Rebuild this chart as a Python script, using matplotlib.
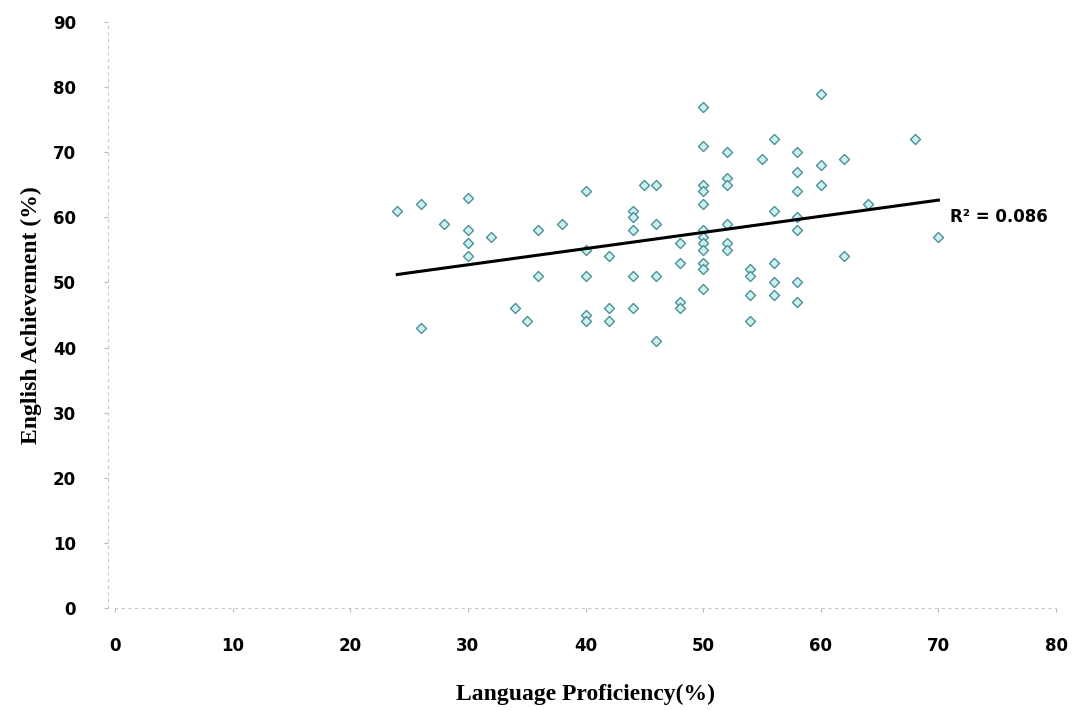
import numpy as np
import matplotlib.pyplot as plt

# language proficiency (%) and english achievement (%)
proficiency = [24, 26, 26, 28, 30, 30, 30, 30, 32, 34, 35, 36, 36, 38,
               40, 40, 40, 40, 40, 42, 42, 42, 44, 44, 44, 44, 44,
               45, 46, 46, 46, 46, 48, 48, 48, 48,
               50, 50, 50, 50, 50, 50, 50, 50, 50, 50, 50, 50,
               52, 52, 52, 52, 52, 52, 54, 54, 54, 54, 55,
               56, 56, 56, 56, 56, 58, 58, 58, 58, 58, 58, 58,
               60, 60, 60, 62, 62, 64, 68, 70]
achievement = [61, 62, 43, 59, 63, 58, 56, 54, 57, 46, 44, 58, 51, 59,
               64, 55, 51, 45, 44, 54, 46, 44, 61, 60, 58, 51, 46,
               65, 65, 59, 51, 41, 56, 53, 47, 46,
               77, 71, 65, 64, 62, 58, 57, 56, 55, 53, 52, 49,
               70, 66, 65, 59, 56, 55, 52, 51, 48, 44, 69,
               72, 61, 53, 50, 48, 70, 67, 64, 60, 58, 50, 47,
               79, 68, 65, 69, 54, 62, 72, 57]
r2_label = "R² = 0.086"

x = np.array(proficiency, dtype=float)
y = np.array(achievement, dtype=float)
slope, icpt = np.polyfit(x, y, 1)

fig = plt.figure(figsize=(10.81, 7.10), dpi=100)
ax = fig.add_axes([0.1064, 0.1437, 0.8705, 0.8254])

ax.scatter(x, y, marker="D", s=26, facecolor="#c9f1f1", edgecolor="#4f8f96",
           linewidths=1.0, zorder=2)

xs = np.array([x.min(), x.max()])
ax.plot(xs, slope * xs + icpt, color="black", lw=2.2, zorder=3)

ax.text(71, 60, r2_label, fontsize=12, fontweight="bold",
        family="DejaVu Sans", ha="left", va="center")

ax.set_xlim(0, 80)
ax.set_ylim(0, 90)
ax.set_xticks(range(0, 81, 10))
ax.set_yticks(range(0, 91, 10))

for s in ["top", "right"]:
    ax.spines[s].set_visible(False)
for s in ["left", "bottom"]:
    ax.spines[s].set_color("#c8c8c8")
    ax.spines[s].set_linestyle((0, (2, 4)))
    ax.spines[s].set_linewidth(0.8)
ax.spines["left"].set_position(("outward", 5))

ax.tick_params(axis="both", length=3, color="#bbbbbb", labelsize=12)
ax.tick_params(axis="y", pad=20)
ax.tick_params(axis="x", pad=18)
for lab in ax.get_xticklabels() + ax.get_yticklabels():
    lab.set_fontweight("bold")
    lab.set_family("DejaVu Sans")

ax.set_xlabel("Language Proficiency(%)", fontsize=17, fontweight="bold",
              family="Liberation Serif", labelpad=21)
ax.set_ylabel("English Achievement (%)", fontsize=17, fontweight="bold",
              family="Liberation Serif", labelpad=8)

fig.savefig("out.png", dpi=100)
